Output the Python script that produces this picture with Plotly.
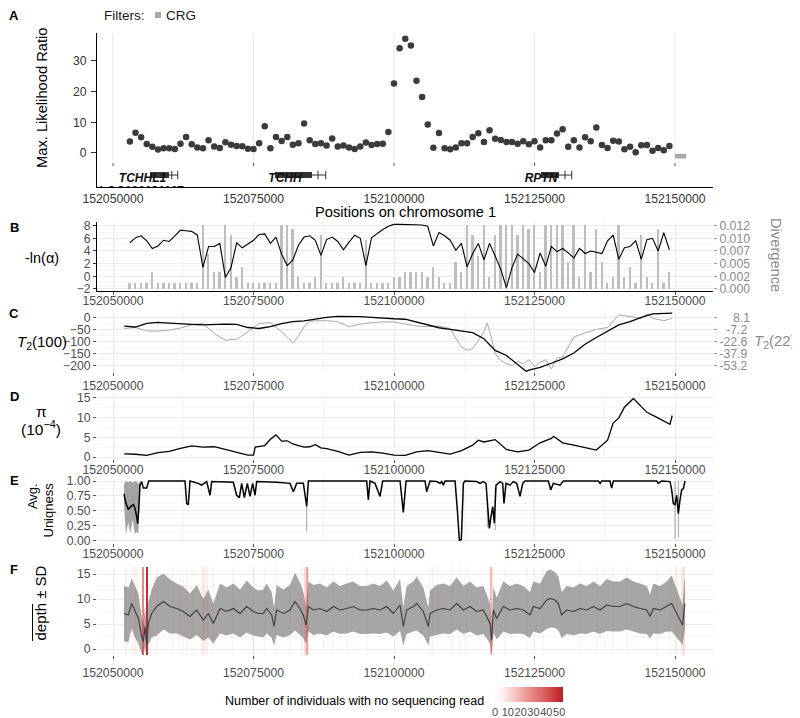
import plotly.graph_objects as go

# The page body adds an 8 px offset, so the figure is 8 px smaller and all
# reference pixel positions are shifted by OFF.
W, H = 792, 710
OFF = 8
FONT = "Liberation Sans"
TICK_COL = "#4d4d4d"
GRID = "#ebebeb"
GRID_MINOR = "#f5f5f5"

# ------------------------------------------------------------------ data
MAJOR_BREAKS = [152050000, 152075000, 152100000, 152125000, 152150000]
MINOR_BREAKS = [152062500, 152087500, 152112500, 152137500]
X_RANGE = [152047150, 152156760]
BASE_BP = 152050000  # offsets below are kb from this base

# A: maximum likelihood ratio per 1-kb window
window_pos = list(range(152053000, 152150000, 1000))
max_lik_ratio = [3.7, 6.6, 5.1, 2.9, 2.0, 1.1, 1.5, 1.5, 1.3, 3.0,
                 5.2, 2.8, 1.8, 1.5, 4.1, 2.1, 1.6, 3.5, 2.7, 2.3,
                 2.2, 1.4, 1.3, 3.2, 8.7, 1.5, 5.2, 3.9, 5.2, 2.7,
                 3.2, 9.6, 4.1, 2.9, 3.2, 2.4, 4.7, 2.1, 2.4, 1.8,
                 1.3, 2.1, 3.4, 2.6, 2.9, 3.0, 6.8, 22.6, 34.1, 37.2,
                 35.0, 23.5, 18.2, 9.3, 1.7, 6.5, 1.5, 1.2, 1.8, 3.2,
                 3.2, 5.2, 6.4, 3.6, 7.4, 4.6, 4.2, 3.6, 3.6, 3.0,
                 3.8, 2.8, 3.8, 1.8, 4.1, 4.1, 6.3, 7.7, 2.0, 4.1,
                 1.8, 5.1, 3.8, 8.3, 2.6, 1.6, 4.0, 3.7, 1.2, 2.0,
                 0.2, 2.5, 2.6, 0.7, 1.6, 0.9, 2.3]

gene_names = ["TCHHL1", "TCHH", "RPTN"]
gene_cds_start = [152056584, 152078827, 152126158]
gene_cds_end = [152059965, 152085411, 152129361]
gene_exon_mark = [152060447, 152086477, 152130428]
gene_tx_end = [152061513, 152087848, 152131620]
gene_label_pos = [152055249, 152080606, 152126160]
hidden_gene_name = "LOC100131107"
hidden_gene_pos = 152054982
crg_start, crg_end = 152150000, 152152000

# B: -ln(alpha) and divergence per window
neg_ln_alpha = [5.3, 6.1, 6.4, 5.6, 4.4, 4.8, 5.7, 5.5, 6.4, 7.3,
                7.2, 7.1, 6.5, 1.4, 4.7, 4.7, 5.2, -0.2, 1.4, 5.3,
                4.5, 5.1, 5.7, 6.6, 6.7, 5.2, 6.2, 3.5, 1.7, 2.6,
                4.9, 6.2, 6.4, 5.7, 3.3, 5.8, 6.2, 5.5, 4.2, 5.4,
                6.5, 6.0, 1.7, 6.1, 6.8, 7.4, 7.9, 8.2, 8.2, 8.2,
                8.2, 8.1, 8.1, 7.9, 4.8, 6.9, 6.4, 5.7, 4.1, 5.2,
                1.5, 3.6, 5.2, 2.6, 5.2, 3.2, 1.1, -1.8, 1.4, 3.5,
                2.8, 2.0, 0.6, 3.7, 1.6, 4.7, 3.9, 4.4, 3.7, 2.9,
                4.4, 3.6, 4.0, 3.8, 3.6, 5.6, 6.5, 2.7, 4.5, 4.7,
                5.6, 2.7, 5.8, 6.0, 4.0, 6.9, 4.2]
divergence = [0.00125, 0.00125, 0.00125, 0.00125, 0.00343, 0.00125, 0.00125, 0.00125, 0.00125, 0.00125,
              0.00125, 0.00125, 0.00125, 0.0127, 0.0070, 0.00343, 0.00343, 0.0127, 0.01075, 0.00244,
              0.00438, 0.00125, 0.00125, 0.00125, 0.00125, 0.00125, 0.00125, 0.0127, 0.0127, 0.01188,
              0.00244, 0.00125, 0.00125, 0.00244, 0.01075, 0.00125, 0.00125, 0.00125, 0.00244, 0.00125,
              0.00125, 0.00125, 0.00963, 0.00125, 0.00125, 0.00125, 0.00125, 0.00244, 0.00244, 0.00343,
              0.00343, 0.00343, 0.00343, 0.00244, 0.00438, 0.00244, 0.00125, 0.00125, 0.00538, 0.00343,
              0.0127, 0.01075, 0.0065, 0.0127, 0.00244, 0.01075, 0.0127, 0.0127, 0.0127, 0.01075,
              0.0127, 0.01188, 0.0127, 0.00343, 0.0127, 0.0127, 0.0127, 0.0127, 0.00538, 0.0127,
              0.00244, 0.0127, 0.00343, 0.01188, 0.00538, 0.00125, 0.00244, 0.0127, 0.00244, 0.00438,
              0.00125, 0.01075, 0.00244, 0.00125, 0.01188, 0.00125, 0.00343]

# C: T2 statistics (window 100 and window 22)
t2_100_kb = [2, 4, 6, 8, 10, 12, 14, 16, 18, 20, 22, 24, 26, 28, 30, 32, 34, 36, 38, 40,
             42, 44, 46, 48, 50, 52, 54, 56, 58, 60, 62, 64, 66, 68, 70, 72, 73.5, 74, 76, 78,
             80, 82, 84, 86, 88, 90, 92, 94, 96, 98, 99.5]
t2_100 = [-36, -40, -25, -21, -24, -28, -29, -31, -29, -28, -29, -42, -46, -38, -26, -18, -15, -7, 0, 4,
          4, 3, 0, -4, -6, -8, -19, -32, -43, -50, -56, -63, -88, -136, -157, -192, -222, -217, -206, -189,
          -171, -147, -111, -83, -56, -31, -18, 0, 14, 14, 17]
t2_22_kb = [2, 4, 6, 8, 10, 12, 14, 16, 18, 20, 22, 24, 26, 28, 30, 31.5, 32, 33, 34, 35,
            36, 38, 40, 42, 44, 46, 48, 50, 52, 54, 56, 58, 60, 61, 62, 63, 64, 65, 66, 66.6,
            67.3, 68, 69, 70, 71, 72, 73, 74, 75, 76, 77, 78, 79, 80, 82, 84, 86, 88, 89, 90,
            92, 94, 95, 96, 98, 99.5]
t2_22 = [-6.0, -4.8, -9.0, -9.3, -8.1, -5.4, -1.4, 0.4, -12.4, -20.7, -19.4, -10.3, 0.4, 1.4, -10.3, -20.7, -24.3, -15.8, -3.8, 3.5,
         3.8, 3.8, 2.6, -3.8, -0.5, 1.4, 2.3, 2.3, -0.5, -2.9, -3.8, -2.9, -6.0, -18.8, -29.2, -33.5, -31.4, -20.7, -10.3, 0.4,
         -16.7, -37.8, -46.4, -50.7, -52.8, -47.3, -50.7, -45.5, -54.0, -48.5, -45.5, -57.1, -43.0, -42.1, -16.7, -11.5, -7.2, -4.8, 2.6, 11.2,
         9.0, 6.9, 12.4, 6.9, 3.8, 6.9]

# D: nucleotide diversity (x 1e-4)
pi_kb = [2, 4, 6, 8, 10, 12, 14, 16, 18, 20, 22, 24, 25, 25.3, 27, 28, 29, 30, 31, 32,
         33, 34, 35, 36, 37, 38, 40, 42, 44, 46, 48, 50, 52, 54, 56, 58, 60, 62, 64, 65,
         66, 68, 70, 72, 74, 76, 78, 78.4, 80, 82, 84, 86, 88, 89, 90, 91, 92.6, 94, 95, 96.7,
         98, 99.1, 99.5]
pi_val = [0.8, 0.7, 0.4, 1.1, 1.4, 2.2, 2.8, 2.5, 2.6, 1.9, 1.3, 0.5, 0.5, 2.5, 2.9, 4.5, 5.6, 4.0, 4.1, 3.3,
          2.9, 2.5, 2.6, 3.1, 2.3, 2.1, 1.4, 0.5, 1.2, 1.3, 1.0, 0.5, 0.4, 1.3, 1.6, 1.1, 0.75, 1.6, 3.0, 4.25,
          3.8, 4.4, 1.9, 1.3, 1.75, 3.6, 4.7, 5.25, 3.6, 3.0, 2.3, 1.75, 4.25, 8.6, 9.9, 12.6, 14.8, 12.75, 11.3, 10.1,
          9.1, 8.25, 10.5]

# E: average uniqueness
uniq_kb = [1.96, 2.31, 2.73, 3.14, 3.62, 3.91, 4.21, 4.39, 4.57, 4.80,
           5.10, 5.40, 5.99, 6.35, 12.81, 13.11, 13.40, 13.70, 15.18, 15.78,
           16.67, 17.26, 17.56, 20.23, 20.82, 21.41, 22.00, 22.48, 22.89, 23.37,
           23.90, 24.38, 24.85, 25.27, 25.56, 27.94, 29.12, 31.49, 32.09, 32.68,
           33.87, 34.46, 34.76, 45.14, 45.43, 45.73, 46.62, 47.51, 47.98, 51.07,
           51.66, 52.14, 55.52, 55.81, 56.41, 57.59, 58.19, 58.48, 58.78, 59.08,
           60.86, 61.27, 61.63, 61.98, 62.34, 62.63, 64.71, 65.30, 65.90, 66.37,
           66.61, 66.96, 67.26, 67.56, 67.85, 68.15, 68.86, 69.34, 69.57, 69.93,
           70.64, 71.23, 71.83, 72.42, 72.90, 73.31, 77.46, 77.88, 78.35, 79.54,
           80.13, 86.36, 86.66, 86.95, 88.43, 88.73, 89.03, 96.74, 97.04, 97.63,
           99.11, 99.41, 99.70, 100.00, 100.30, 100.59, 100.89, 101.19, 101.48, 101.78]
uniq_val = [0.78, 0.62, 0.52, 0.57, 0.60, 0.54, 0.40, 0.28, 0.51, 0.93,
            0.99, 0.88, 0.88, 1.0, 1.0, 0.62, 0.60, 1.0, 0.96, 0.93,
            0.99, 0.76, 0.99, 0.98, 0.97, 0.98, 0.76, 0.72, 0.96, 0.72,
            0.96, 0.74, 0.96, 0.76, 0.99, 0.99, 0.98, 0.96, 0.82, 0.96,
            0.96, 0.57, 1.0, 1.0, 0.68, 1.0, 0.96, 0.74, 1.0, 1.0,
            0.47, 1.0, 1.0, 0.82, 1.0, 0.99, 0.96, 0.99, 0.93, 1.0,
            1.0, 0.51, 0.0, 0.01, 0.96, 1.0, 0.99, 0.96, 0.99, 0.96,
            0.68, 0.2, 0.4, 0.57, 0.29, 0.93, 0.99, 0.96, 0.62, 0.96,
            0.93, 0.99, 0.96, 0.74, 0.96, 1.0, 1.0, 0.85, 0.96, 0.93,
            1.0, 1.0, 0.96, 1.0, 1.0, 0.88, 1.0, 1.0, 0.96, 1.0,
            0.99, 0.85, 0.62, 0.60, 0.76, 0.45, 0.68, 0.85, 0.87, 1.0]
uniq_band_kb = [1.96, 2.3, 2.7, 3.1, 3.5, 3.9, 4.2, 4.5, 4.8]
uniq_band_lo = [0.6, 0.1, 0.3, 0.12, 0.35, 0.1, 0.15, 0.1, 0.9]
uniq_band_hi = [0.95, 1.0, 0.98, 1.0, 0.97, 1.0, 0.99, 0.95, 1.0]
uniq_spike_kb = [34.46, 66.6, 68.0, 100.0, 100.6]
uniq_spike_lo = [0.15, 0.22, 0.17, 0.02, 0.05]
uniq_spike_hi = [0.57, 0.68, 0.9, 1.0, 1.0]

# F: mean depth and SD
depth_kb = [1.96, 2.73, 3.32, 3.91, 4.51, 5.10, 5.40, 5.69, 5.99, 6.29,
            6.88, 7.77, 8.96, 10.14, 11.33, 12.51, 13.70, 14.89, 16.07, 16.96,
            17.85, 19.04, 20.23, 21.41, 22.60, 23.78, 24.97, 25.86, 26.75, 27.34,
            28.23, 28.65, 29.12, 30.31, 31.49, 32.38, 33.27, 33.87, 34.34, 34.76,
            35.65, 36.83, 38.02, 39.21, 40.39, 41.58, 42.76, 43.95, 45.14, 46.32,
            47.51, 48.70, 49.88, 51.07, 51.66, 52.25, 53.44, 54.03, 55.22, 56.11,
            56.41, 57.59, 58.78, 59.97, 61.15, 62.34, 63.52, 64.71, 65.90, 66.49,
            67.08, 67.38, 67.68, 68.27, 69.45, 70.64, 71.83, 73.01, 74.20, 74.79,
            75.98, 77.17, 77.76, 78.65, 79.24, 79.83, 80.72, 81.91, 83.10, 84.28,
            85.47, 86.66, 87.84, 89.03, 90.21, 91.40, 92.58, 93.77, 94.96, 95.55,
            96.14, 97.33, 98.52, 99.41, 100.30, 100.89, 101.36, 101.60, 101.78]
depth_mean = [7.1, 6.8, 9.1, 7.5, 6.1, 2.5, 1.5, 4.5, 1.1, 5.1,
              7.1, 8.5, 9.5, 8.5, 8.1, 7.5, 6.5, 7.8, 5.8, 7.1,
              5.1, 8.1, 7.5, 8.1, 7.1, 8.5, 7.5, 7.1, 7.1, 8.1,
              6.8, 4.5, 7.8, 7.1, 7.8, 9.5, 8.1, 6.8, 4.8, 8.5,
              7.8, 8.1, 7.5, 8.5, 7.8, 8.1, 8.5, 7.8, 7.8, 8.1,
              7.8, 8.5, 7.1, 8.8, 4.5, 7.8, 8.5, 9.1, 7.5, 4.5,
              7.1, 7.8, 8.1, 7.8, 9.1, 7.8, 8.5, 7.5, 7.8, 6.5,
              5.1, 1.8, 7.8, 6.1, 8.5, 7.8, 8.1, 7.8, 6.8, 8.5,
              8.1, 9.8, 10.1, 9.8, 9.1, 6.8, 7.8, 7.5, 8.1, 7.8,
              8.5, 7.8, 8.8, 8.5, 8.5, 9.1, 8.5, 8.1, 7.8, 6.5,
              8.1, 7.8, 8.5, 9.1, 7.1, 5.8, 4.8, 7.8, 9.1]
depth_sd = [5.5, 5.5, 5.0, 5.2, 5.0, 4.0, 3.5, 4.0, 3.0, 4.2,
            4.8, 5.8, 5.6, 5.4, 5.0, 5.0, 4.6, 5.0, 4.2, 4.8,
            4.0, 5.0, 4.8, 5.0, 4.8, 5.2, 4.8, 4.6, 4.8, 5.0,
            4.6, 3.8, 5.0, 4.8, 5.0, 5.8, 5.2, 4.6, 3.8, 5.0,
            5.0, 5.0, 4.8, 5.0, 4.8, 5.0, 5.0, 4.8, 4.8, 5.0,
            4.8, 5.2, 4.6, 5.2, 3.8, 4.8, 5.0, 5.4, 4.8, 3.8,
            4.6, 5.0, 5.0, 4.8, 5.2, 4.8, 5.0, 4.8, 4.8, 4.4,
            4.0, 3.0, 4.6, 4.2, 5.0, 4.8, 5.0, 4.8, 4.6, 5.0,
            5.0, 5.8, 5.8, 5.6, 5.4, 4.6, 4.8, 4.8, 5.0, 4.8,
            5.0, 4.8, 5.2, 5.0, 5.0, 5.2, 5.0, 5.0, 4.8, 4.4,
            5.0, 4.8, 5.0, 5.6, 4.8, 4.4, 4.0, 5.0, 5.2]
noread_kb = [2.31, 3.32, 3.91, 4.21, 5.28, 5.99, 6.58, 7.77, 10.74, 11.92,
             13.11, 14.0, 15.78, 16.19, 16.67, 17.85, 21.41, 24.97, 27.05, 29.0,
             31.49, 33.57, 34.16, 34.46, 34.76, 39.21, 41.58, 45.14, 56.41, 57.0,
             57.89, 60.26, 61.74, 62.93, 67.26, 67.68, 69.75, 73.61, 76.57, 83.10,
             86.06, 89.03, 91.40, 96.74, 99.11, 100.30, 101.19, 101.60]
noread_n = [5, 4, 5, 4, 28, 50, 4, 3, 3, 3,
            4, 3, 6, 8, 6, 3, 3, 3, 3, 4,
            3, 6, 10, 20, 8, 3, 3, 3, 4, 4,
            3, 3, 4, 3, 18, 6, 4, 3, 3, 3,
            3, 3, 3, 3, 4, 5, 8, 10]
noread_ticks = [0, 10, 20, 30, 40, 50]

# ------------------------------------------------------------------ helpers
def fx(p):
    return (p - OFF) / W


def fy(p):
    return 1 - (p - OFF) / H


def to_bp(lst):
    return [BASE_BP + v * 1000 for v in lst]


XD = [fx(97), fx(713)]
A_Y = [-11.1, 39.1]
B_L = [-2.32, 8.58]
DIV_PER_UNIT = 0.00125
B_R = [(v + 2) * DIV_PER_UNIT for v in B_L]
C_L = [-225, 25.9]
C_SLOPE, C_OFF = 0.3065, 8.1
C_R = [C_OFF + C_SLOPE * v for v in C_L]
D_Y = [-0.5, 15.68]
E_Y = [-0.0455, 1.0506]
F_Y = [-1.2, 16.5]

fig = go.Figure()

# ---- A
fig.add_trace(go.Scatter(x=window_pos, y=max_lik_ratio, mode="markers",
                         marker=dict(size=6.5, color="#3b3b3b"), xaxis="x", yaxis="y",
                         hoverinfo="skip"))
gy = -7.2
bx, by, wx, wy, mx, my = [], [], [], [], [], []
for s, e, m, t in zip(gene_cds_start, gene_cds_end, gene_exon_mark, gene_tx_end):
    bx += [s, e, None]; by += [gy, gy, None]
    wx += [e, t, None]; wy += [gy, gy, None]
    mx += [m, t]; my += [gy, gy]
fig.add_trace(go.Scatter(x=wx, y=wy, mode="lines", line=dict(color="#333333", width=1),
                         xaxis="x", yaxis="y", hoverinfo="skip"))
fig.add_trace(go.Scatter(x=mx, y=my, mode="markers",
                         marker=dict(symbol="line-ns", size=6, line=dict(width=1, color="#333333")),
                         xaxis="x", yaxis="y", hoverinfo="skip"))
fig.add_trace(go.Scatter(x=bx, y=by, mode="lines", line=dict(color="#333333", width=6),
                         xaxis="x", yaxis="y", hoverinfo="skip"))
fig.add_trace(go.Scatter(x=gene_label_pos, y=[-8.4] * len(gene_names), mode="text",
                         text=["<b><i>%s</i></b>" % g for g in gene_names],
                         textfont=dict(family=FONT, size=12, color="#111111"),
                         xaxis="x", yaxis="y", hoverinfo="skip"))
fig.add_trace(go.Scatter(x=[hidden_gene_pos], y=[-10.7], mode="text", textposition="bottom center",
                         text=["<b><i>%s</i></b>" % hidden_gene_name],
                         textfont=dict(family=FONT, size=12, color="#111111"),
                         xaxis="x", yaxis="y", hoverinfo="skip", cliponaxis=True))

# ---- B
fig.add_trace(go.Bar(x=window_pos, y=divergence, width=320, marker=dict(color="#bebebe", line=dict(width=0)),
                     xaxis="x2", yaxis="y2", hoverinfo="skip"))
fig.add_trace(go.Scatter(x=window_pos, y=neg_ln_alpha, mode="lines", line=dict(color="black", width=1.1),
                         xaxis="x2", yaxis="y7", hoverinfo="skip"))

# ---- C
fig.add_trace(go.Scatter(x=to_bp(t2_22_kb), y=t2_22, mode="lines", line=dict(color="#a9a9a9", width=1),
                         xaxis="x3", yaxis="y3", hoverinfo="skip"))
fig.add_trace(go.Scatter(x=to_bp(t2_100_kb), y=t2_100, mode="lines", line=dict(color="black", width=1.3),
                         xaxis="x3", yaxis="y8", hoverinfo="skip"))

# ---- D
fig.add_trace(go.Scatter(x=to_bp(pi_kb), y=pi_val, mode="lines", line=dict(color="black", width=1.3),
                         xaxis="x4", yaxis="y4", hoverinfo="skip"))

# ---- E
fig.add_trace(go.Scatter(x=to_bp(uniq_band_kb), y=uniq_band_hi, mode="lines", line=dict(width=0),
                         xaxis="x5", yaxis="y5", hoverinfo="skip"))
fig.add_trace(go.Scatter(x=to_bp(uniq_band_kb), y=uniq_band_lo, mode="lines", line=dict(width=0),
                         fill="tonexty", fillcolor="#a3a3a3", xaxis="x5", yaxis="y5", hoverinfo="skip"))
sx, sy = [], []
for k, lo, hi in zip(uniq_spike_kb, uniq_spike_lo, uniq_spike_hi):
    sx += [BASE_BP + k * 1000] * 2 + [None]
    sy += [lo, hi, None]
fig.add_trace(go.Scatter(x=sx, y=sy, mode="lines", line=dict(color="#a3a3a3", width=1),
                         xaxis="x5", yaxis="y5", hoverinfo="skip"))
fig.add_trace(go.Scatter(x=to_bp(uniq_kb), y=uniq_val, mode="lines", line=dict(color="black", width=1.5),
                         xaxis="x5", yaxis="y5", hoverinfo="skip"))

# ---- F
n = min(len(depth_kb), len(depth_mean), len(depth_sd))
dx = to_bp(depth_kb[:n])
upper = [m + s for m, s in zip(depth_mean[:n], depth_sd[:n])]
lower = [m - s for m, s in zip(depth_mean[:n], depth_sd[:n])]
fig.add_trace(go.Scatter(x=dx, y=upper, mode="lines", line=dict(width=0),
                         xaxis="x6", yaxis="y6", hoverinfo="skip"))
fig.add_trace(go.Scatter(x=dx, y=lower, mode="lines", line=dict(width=0), fill="tonexty",
                         fillcolor="#a6a6a6", xaxis="x6", yaxis="y6", hoverinfo="skip"))
noread_scale = [[0, "rgba(235,90,80,0.02)"], [0.12, "rgba(228,75,65,0.09)"],
                [0.45, "rgba(215,55,48,0.5)"], [1, "rgba(192,28,34,1)"]]
fig.add_trace(go.Bar(x=to_bp(noread_kb), y=[F_Y[1] - F_Y[0]] * len(noread_kb), base=F_Y[0], width=170,
                     marker=dict(color=noread_n, cmin=0, cmax=53, colorscale=noread_scale,
                                 line=dict(width=0), showscale=True,
                                 colorbar=dict(orientation="h", x=fx(529), xanchor="center",
                                               y=fy(714), yanchor="bottom", len=68, lenmode="pixels",
                                               thickness=15, xpad=0, ypad=0, outlinewidth=0,
                                               tickvals=noread_ticks, ticks="", tickangle=0,
                                               tickfont=dict(family=FONT, size=11, color=TICK_COL))),
                     xaxis="x6", yaxis="y9", hoverinfo="skip"))
fig.add_trace(go.Scatter(x=dx, y=depth_mean[:n], mode="lines", line=dict(color="#3c3c3c", width=1.1),
                         xaxis="x6", yaxis="y9", hoverinfo="skip"))

# ------------------------------------------------------------------ axes
tickfont = dict(family=FONT, size=12.2, color=TICK_COL)
tick_txt = [str(v) for v in MAJOR_BREAKS]


def xgrid(anchor, standoff):
    return dict(domain=XD, range=X_RANGE, anchor=anchor, tickmode="array", tickvals=MAJOR_BREAKS,
                ticktext=tick_txt, showgrid=True, gridcolor=GRID, gridwidth=1,
                minor=dict(tickvals=MINOR_BREAKS, showgrid=True, gridcolor=GRID_MINOR, gridwidth=0.6),
                ticks="outside", ticklen=3, tickcolor="#555555", tickfont=tickfont,
                ticklabelstandoff=standoff, zeroline=False, showline=False, fixedrange=True)


def ygrid(domain, rng, vals, minor_vals, anchor, text=None):
    d = dict(domain=domain, range=rng, anchor=anchor, tickmode="array", tickvals=vals,
             showgrid=True, gridcolor=GRID, gridwidth=1,
             minor=dict(tickvals=minor_vals, showgrid=True, gridcolor=GRID_MINOR, gridwidth=0.6),
             ticks="outside", ticklen=3, tickcolor="#555555", tickfont=tickfont,
             zeroline=False, showline=False, fixedrange=True)
    if text is not None:
        d["ticktext"] = text
    return d


DA = [fy(187), fy(33)]
DB = [fy(291), fy(222)]
DC = [fy(372), fy(311)]
DD = [fy(459), fy(395)]
DE = [fy(543), fy(478)]
DF = [fy(655), fy(566.5)]

layout_axes = dict(
    xaxis=dict(domain=XD, range=X_RANGE, anchor="y", tickmode="array", tickvals=MAJOR_BREAKS,
               ticktext=tick_txt, showgrid=False, ticks="", ticklen=0, showline=True, linecolor="black",
               linewidth=1, tickfont=dict(family=FONT, size=12.2, color="#333333"), zeroline=False),
    yaxis=dict(domain=DA, range=A_Y, anchor="x", tickvals=[0, 10, 20, 30], showgrid=False,
               ticks="outside", ticklen=5, tickcolor="#333333", showline=True, linecolor="black",
               linewidth=1, ticklabelstandoff=2,
               tickfont=dict(family=FONT, size=12.2, color="#333333"), zeroline=False),
    xaxis2=dict(xgrid("y2", -5), showline=True, linecolor="black", linewidth=1),
    yaxis2=dict(ygrid(DB, B_R, [0, 0.0025, 0.005, 0.0075, 0.01, 0.0125],
                      [0.00125, 0.00375, 0.00625, 0.00875, 0.01125], "x2",
                      ["0.000", "0.002", "0.005", "0.007", "0.010", "0.012"]),
                side="right", tickfont=dict(family=FONT, size=12.2, color="#8a8a8a"), tickcolor="#9a9a9a"),
    yaxis7=dict(range=B_L, overlaying="y2", anchor="x2", side="left", tickvals=[-2, 0, 2, 4, 6, 8],
                showgrid=False, zeroline=False, ticks="outside", ticklen=3, tickcolor="#333333",
                showline=True, linecolor="black", linewidth=1, tickfont=tickfont),
    xaxis3=xgrid("y3", -1),
    yaxis3=dict(ygrid(DC, C_R, [C_OFF + C_SLOPE * v for v in [0, -50, -100, -150, -200]],
                      [C_OFF + C_SLOPE * v for v in [-25, -75, -125, -175]], "x3",
                      ["\u2007\u20078.1", "\u2007-7.2", "-22.6", "-37.9", "-53.2"]),
                side="right", tickfont=dict(family=FONT, size=12.2, color="#8a8a8a"), tickcolor="#9a9a9a"),
    yaxis8=dict(range=C_L, overlaying="y3", anchor="x3", side="left", tickvals=[0, -50, -100, -150, -200],
                showgrid=False, zeroline=False, ticks="outside", ticklen=3, tickcolor="#555555",
                showline=False, tickfont=tickfont),
    xaxis4=xgrid("y4", -4),
    yaxis4=ygrid(DD, D_Y, [0, 5, 10, 15], [2.5, 7.5, 12.5], "x4"),
    xaxis5=xgrid("y5", -4),
    yaxis5=ygrid(DE, E_Y, [0, 0.25, 0.5, 0.75, 1.0], [0.125, 0.375, 0.625, 0.875], "x5",
                 ["0.00", "0.25", "0.50", "0.75", "1.00"]),
    xaxis6=xgrid("y6", 3),
    yaxis6=ygrid(DF, F_Y, [0, 5, 10, 15], [2.5, 7.5, 12.5], "x6"),
    yaxis9=dict(range=F_Y, overlaying="y6", anchor="x6", visible=False, showgrid=False, zeroline=False),
)

# ------------------------------------------------------------------ shapes
shapes = []
for v in MAJOR_BREAKS:
    shapes.append(dict(type="line", xref="x", yref="y", x0=v, x1=v, y0=-2.3, y1=A_Y[1],
                       line=dict(color=GRID, width=1), layer="below"))
    shapes.append(dict(type="line", xref="x", yref="y", x0=v, x1=v, y0=-3.3, y1=-4.3,
                       line=dict(color="#555555", width=1), layer="below"))
shapes.append(dict(type="rect", xref="x", yref="y", x0=crg_start, x1=crg_end, y0=-0.3, y1=-1.8,
                   fillcolor="#aaaaaa", line=dict(width=0)))
shapes.append(dict(type="rect", xref="paper", yref="paper", x0=fx(155), x1=fx(161), y0=fy(18), y1=fy(12),
                   fillcolor="#a8a8a8", line=dict(width=0)))
shapes.append(dict(type="line", xref="paper", yref="paper", x0=fx(32.5), x1=fx(32.5), y0=fy(641), y1=fy(604),
                   line=dict(color="black", width=1)))

# ------------------------------------------------------------------ annotations
ann = []


def add(text, x, y, size, color="black", angle=0, xanchor="center", align="center", bold=False):
    ann.append(dict(text=("<b>%s</b>" % text) if bold else text, x=fx(x), y=fy(y), xref="paper",
                    yref="paper", showarrow=False, textangle=angle, xanchor=xanchor, yanchor="middle",
                    align=align, font=dict(family=FONT, size=size, color=color)))


for letter, yy in zip("ABCDEF", [16, 227, 313.5, 396, 480, 569]):
    add(letter, 14, yy, 13, bold=True)
add("Filters:", 102, 16, 13.5, color="#1a1a1a", xanchor="left")
add("CRG", 164, 16, 13.5, color="#1a1a1a", xanchor="left")
add("Max. Likelihood Ratio", 42, 98, 14.7, angle=-90)
add("Positions on chromosome 1", 405, 212, 14.7)
add("-ln(α)", 41.5, 258, 14.5)
add("Divergence", 776, 255, 14.7, color="#8a8a8a", angle=90)
add("<i>T</i><sub>2</sub>(100)", 42, 342, 15)
add("<i>T</i><sub>2</sub>(22)", 775, 341, 15, color="#8a8a8a")
add("π", 41, 411, 15.5)
add("(10<sup>−4</sup>)", 41, 428, 15.5)
add("Avg.<br>Uniqness", 40.5, 510, 13, angle=-90, align="right")
add("depth ± SD", 40, 603.5, 15, angle=-90)
add("Number of individuals with no sequencing read", 486, 701, 12.5, xanchor="right")

fig.update_layout(width=W, height=H, margin=dict(l=0, r=0, t=0, b=0, autoexpand=False),
                  paper_bgcolor="white", plot_bgcolor="white", showlegend=False, bargap=0,
                  font=dict(family=FONT), shapes=shapes, annotations=ann, **layout_axes)

fig.write_html("out.html")
